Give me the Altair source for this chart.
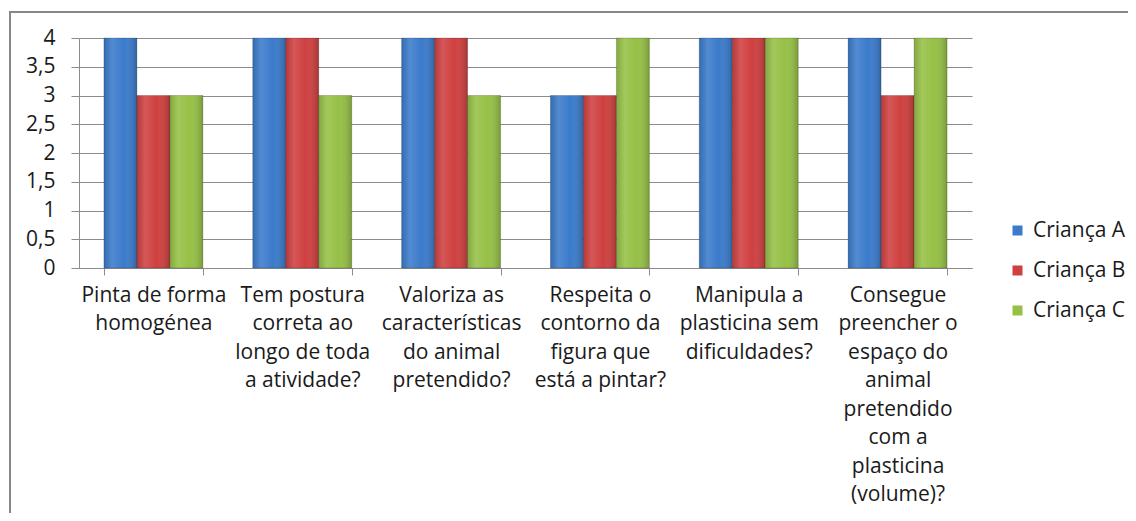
import altair as alt
import pandas as pd

categories = [
    "Pinta de forma|homogénea",
    "Tem postura|correta ao|longo de toda|a atividade?",
    "Valoriza as|características|do animal|pretendido?",
    "Respeita o|contorno da|figura que|está a pintar?",
    "Manipula a|plasticina sem|dificuldades?",
    "Consegue|preencher o|espaço do|animal|pretendido|com a|plasticina|(volume)?",
]
series = ["Criança A", "Criança B", "Criança C"]
crianca_a = [4, 4, 4, 3, 4, 4]
crianca_b = [3, 4, 4, 3, 4, 3]
crianca_c = [3, 3, 3, 4, 4, 4]
colors = ["#3B7BCB", "#CF4040", "#96C046"]

rows = []
for s, vals in zip(series, [crianca_a, crianca_b, crianca_c]):
    for c, v in zip(categories, vals):
        rows.append({"cat": c, "serie": s, "value": v})
df = pd.DataFrame(rows)

FONT = "Open Sans"
FS = 21

x_enc = alt.X(
    "cat:N",
    sort=categories,
    scale=alt.Scale(paddingInner=0.335, paddingOuter=0.1675),
    axis=alt.Axis(
        title=None,
        labelExpr="split(datum.label, '|')",
        labelAngle=0,
        labelFont=FONT,
        labelFontSize=FS,
        labelColor="#1a1a1a",
        labelLineHeight=28.5,
        labelLimit=1000,
        labelPadding=9,
        labelBound=False,
        labelOverlap=False,
        tickBand="extent",
        tickSize=7,
        tickColor="#8c8c8c",
        domainColor="#8c8c8c",
        grid=False,
    ),
)
xo_enc = alt.XOffset("serie:N", sort=series, scale=alt.Scale(paddingInner=0, paddingOuter=0))
y_enc = alt.Y(
    "value:Q",
    scale=alt.Scale(domain=[0, 4], nice=False),
    axis=alt.Axis(
        title=None,
        values=[0, 0.5, 1, 1.5, 2, 2.5, 3, 3.5, 4],
        labelExpr="replace(format(datum.value, '~g'), '.', ',')",
        labelFont=FONT,
        labelFontSize=FS,
        labelColor="#1a1a1a",
        labelPadding=16,
        tickSize=8,
        tickColor="#8c8c8c",
        domainColor="#8c8c8c",
        gridColor="#8c8c8c",
        grid=True,
    ),
)

bars = alt.Chart(df).mark_bar(stroke="#00000030", strokeWidth=1).encode(
    x=x_enc,
    xOffset=xo_enc,
    y=y_enc,
    color=alt.Color(
        "serie:N",
        sort=series,
        scale=alt.Scale(domain=series, range=colors),
        legend=alt.Legend(
            title=None,
            orient="none",
            legendX=928,
            legendY=182,
            labelFont=FONT,
            labelFontSize=FS,
            labelColor="#1a1a1a",
            symbolType="square",
            symbolSize=100,
            symbolStrokeWidth=0,
            rowPadding=18,
            labelOffset=5,
        ),
    ),
)

shade = alt.Chart(df).mark_bar(
    fill=alt.Gradient(
        gradient="linear",
        x1=0, x2=1, y1=0, y2=0,
        stops=[
            alt.GradientStop(offset=0, color="rgba(0,0,0,0.12)"),
            alt.GradientStop(offset=0.25, color="rgba(255,255,255,0.12)"),
            alt.GradientStop(offset=0.6, color="rgba(255,255,255,0.0)"),
            alt.GradientStop(offset=1, color="rgba(0,0,0,0.2)"),
        ],
    )
).encode(x=x_enc, xOffset=xo_enc, y=y_enc)

border = alt.Chart(pd.DataFrame({"b": [0]})).mark_rect(
    fill="transparent", stroke="#878787", strokeWidth=2
).encode(
    x=alt.value(-69), x2=alt.value(1200), y=alt.value(-26), y2=alt.value(900)
)

chart = alt.layer(border, bars, shade).properties(
    width=893,
    height=230,
    autosize=alt.AutoSizeParams(type="none"),
    padding={"left": 71, "top": 30, "right": 156, "bottom": 245},
    background="white",
).configure_view(stroke=None)

chart.save("out.html", embed_options={"renderer": "svg", "actions": False})
